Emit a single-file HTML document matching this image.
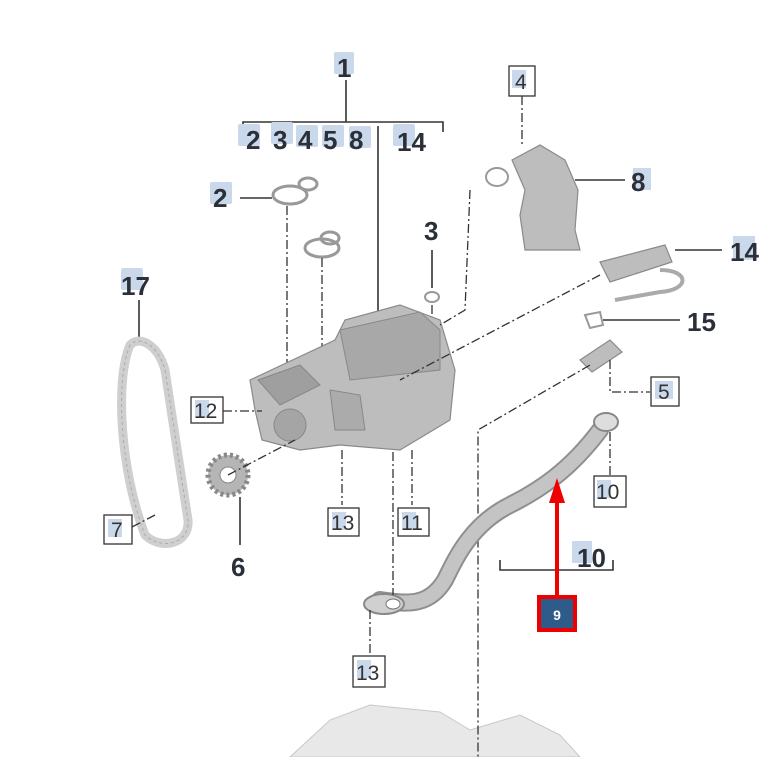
<!DOCTYPE html>
<html><head><style>
body{margin:0;background:#fff}
svg{display:block}
.b{font-family:"Liberation Sans",sans-serif;font-weight:bold;font-size:26px;fill:#2a2f38}
.n{font-family:"Liberation Sans",sans-serif;font-size:21px;fill:#333}
.tag{fill:#c9d8ea}
.dl{stroke:#333;stroke-width:1.3;fill:none;stroke-dasharray:9 3 2 3}
.sl{stroke:#333;stroke-width:1.6;fill:none}
.box{fill:#fff;stroke:#333;stroke-width:1.3}
.part{fill:#bdbdbd;stroke:#8a8a8a;stroke-width:1.2}
</style></head><body>
<svg width="784" height="757" viewBox="0 0 784 757">
<path d="M290 757 L330 720 L370 705 L440 712 L470 730 L520 715 L560 735 L580 757Z" fill="#e8e8e8" stroke="#c8c8c8"/>
<rect class="tag" x="334" y="52" width="20" height="22" rx="2"/>
<text class="b" x="337" y="77">1</text>
<path class="sl" d="M346 80 V122 M243 133 V122 H443 V132"/>
<rect class="tag" x="238" y="124" width="22" height="22" rx="2"/>
<rect class="tag" x="271" y="122" width="22" height="22" rx="2"/>
<rect class="tag" x="296" y="125" width="22" height="22" rx="2"/>
<rect class="tag" x="322" y="125" width="22" height="22" rx="2"/>
<rect class="tag" x="349" y="126" width="22" height="22" rx="2"/>
<rect class="tag" x="393" y="124" width="22" height="22" rx="2"/>
<text class="b" x="246" y="149">2</text><text class="b" x="273" y="149">3</text><text class="b" x="298" y="149">4</text><text class="b" x="323" y="149">5</text><text class="b" x="349" y="149">8</text><text class="b" x="397" y="151">14</text>
<path class="sl" d="M378 126 V315"/>
<rect class="tag" x="210" y="182" width="22" height="22" rx="2"/><text class="b" x="213" y="207">2</text>
<path class="sl" d="M240 198 H272"/>
<ellipse cx="290" cy="195" rx="17" ry="9" fill="none" stroke="#999" stroke-width="3"/>
<ellipse cx="308" cy="184" rx="9" ry="6" fill="none" stroke="#999" stroke-width="3"/>
<path class="dl" d="M287 206 V370"/>
<ellipse cx="322" cy="248" rx="17" ry="9" fill="none" stroke="#999" stroke-width="3"/>
<ellipse cx="330" cy="238" rx="9" ry="6" fill="none" stroke="#999" stroke-width="3"/>
<path class="dl" d="M322 258 V400"/>
<text class="b" x="424" y="240">3</text>
<path class="sl" d="M432 250 V288"/><ellipse cx="432" cy="297" rx="7" ry="5" fill="none" stroke="#999" stroke-width="2"/>
<path class="dl" d="M432 305 V380"/>
<path class="part" d="M250 380 L335 340 L345 320 L400 305 L440 320 L455 370 L450 420 L400 450 L340 445 L300 450 L262 440 L255 410Z"/>
<path d="M340 330 L420 312 L440 330 L440 370 L350 380Z" fill="#a8a8a8" stroke="#888"/>
<path d="M258 380 L300 365 L320 385 L280 405Z" fill="#9f9f9f" stroke="#888"/>
<circle cx="290" cy="425" r="16" fill="#a5a5a5" stroke="#888"/>
<path d="M330 390 L360 395 L365 430 L335 430Z" fill="#ababab" stroke="#888"/>
<rect class="tag" x="121" y="268" width="22" height="22" rx="2"/><text class="b" x="121" y="295">17</text>
<path class="sl" d="M139 300 V345"/>
<path d="M130 345 C115 380 120 470 145 535 C160 550 190 545 188 520 C180 470 170 400 165 370 C158 345 140 335 130 345Z" fill="none" stroke="#cfcfcf" stroke-width="9"/>
<path d="M130 345 C115 380 120 470 145 535 C160 550 190 545 188 520 C180 470 170 400 165 370 C158 345 140 335 130 345Z" fill="none" stroke="#aaa" stroke-width="1" stroke-dasharray="3 3"/>
<circle cx="228" cy="475" r="20" fill="#b5b5b5" stroke="#888" stroke-width="5" stroke-dasharray="3 3"/>
<circle cx="228" cy="475" r="8" fill="#fff" stroke="#888"/>
<path class="sl" d="M240 497 V545"/><text class="b" x="231" y="576">6</text>
<path class="dl" d="M228 475 L295 440"/>
<rect class="box" x="191" y="397" width="32" height="26"/><rect class="tag" x="195" y="400" width="14" height="18"/><text class="n" x="194" y="418">12</text>
<path class="dl" d="M223 411 H262"/>
<rect class="box" x="104" y="515" width="28" height="29"/><rect class="tag" x="108" y="519" width="14" height="18"/><text class="n" x="111" y="537">7</text>
<path class="dl" d="M132 527 L155 515"/>
<path class="dl" d="M342 450 V505 M412 450 V505"/>
<rect class="box" x="328" y="508" width="31" height="28"/><rect class="tag" x="332" y="512" width="14" height="18"/><text class="n" x="331" y="530">13</text>
<rect class="box" x="398" y="508" width="31" height="28"/><rect class="tag" x="402" y="512" width="14" height="18"/><text class="n" x="401" y="530">11</text>
<rect class="box" x="509" y="66" width="26" height="30"/><rect class="tag" x="512" y="70" width="14" height="18"/><text class="n" x="515" y="89">4</text>
<path class="dl" d="M522 96 V145"/>
<ellipse cx="497" cy="177" rx="11" ry="9" fill="none" stroke="#999" stroke-width="2"/>
<path class="dl" d="M470 190 L465 310 L440 325"/>
<path class="part" d="M512 160 L540 145 L565 160 L578 190 L575 230 L580 250 L525 250 L520 215 L525 190Z"/>
<path class="sl" d="M575 180 H625"/><rect class="tag" x="633" y="168" width="18" height="22"/><text class="b" x="631" y="191">8</text>
<path class="part" d="M600 262 L665 245 L672 262 L610 282Z"/>
<path d="M660 270 C690 270 690 290 660 292 L615 300" fill="none" stroke="#aaa" stroke-width="4"/>
<path class="sl" d="M675 250 H722"/><rect class="tag" x="733" y="236" width="22" height="24"/><text class="b" x="730" y="261">14</text>
<path class="dl" d="M600 275 L400 380"/>
<path d="M585 315 L600 312 L603 325 L590 328Z" fill="none" stroke="#999" stroke-width="2"/>
<path class="sl" d="M603 320 H680"/><text class="b" x="687" y="331">15</text>
<path class="part" d="M580 360 L610 340 L622 352 L592 372Z"/>
<path class="dl" d="M590 365 L478 430 V757"/>
<path class="dl" d="M610 360 V392 H650"/>
<rect class="box" x="651" y="377" width="28" height="29"/><rect class="tag" x="655" y="381" width="18" height="18"/><text class="n" x="658" y="399">5</text>
<path d="M600 430 C570 470 540 490 510 505 C470 525 455 560 445 580 C430 605 410 605 380 600" fill="none" stroke="#8f8f8f" stroke-width="18" stroke-linecap="round"/>
<path d="M600 430 C570 470 540 490 510 505 C470 525 455 560 445 580 C430 605 410 605 380 600" fill="none" stroke="#c4c4c4" stroke-width="14" stroke-linecap="round"/>
<ellipse cx="606" cy="422" rx="12" ry="9" fill="#ddd" stroke="#888" stroke-width="2"/>
<ellipse cx="384" cy="604" rx="20" ry="10" fill="#d0d0d0" stroke="#888" stroke-width="2"/>
<ellipse cx="393" cy="604" rx="7" ry="5" fill="#fff" stroke="#777"/>
<path class="dl" d="M610 432 V476"/>
<rect class="box" x="594" y="476" width="32" height="31"/><rect class="tag" x="597" y="480" width="14" height="18"/><text class="n" x="596" y="499">10</text>
<path class="sl" d="M500 560 V570 H613 V560"/>
<rect class="tag" x="572" y="541" width="20" height="22"/><text class="b" x="577" y="567">10</text>
<path class="dl" d="M393 452 V595 M370 610 V655"/>
<rect class="box" x="353" y="656" width="32" height="31"/><rect class="tag" x="357" y="660" width="14" height="18"/><text class="n" x="356" y="680">13</text>
<path d="M557 597 V500" stroke="#e00" stroke-width="4"/>
<path d="M549 503 L557 478 L565 503Z" fill="#e00"/>
<rect x="539" y="597" width="36" height="33" fill="#2f5b8a" stroke="#e00" stroke-width="4"/>
<text x="557" y="620" text-anchor="middle" font-family="Liberation Sans,sans-serif" font-weight="bold" font-size="14" fill="#fff">9</text>
</svg>
</body></html>
